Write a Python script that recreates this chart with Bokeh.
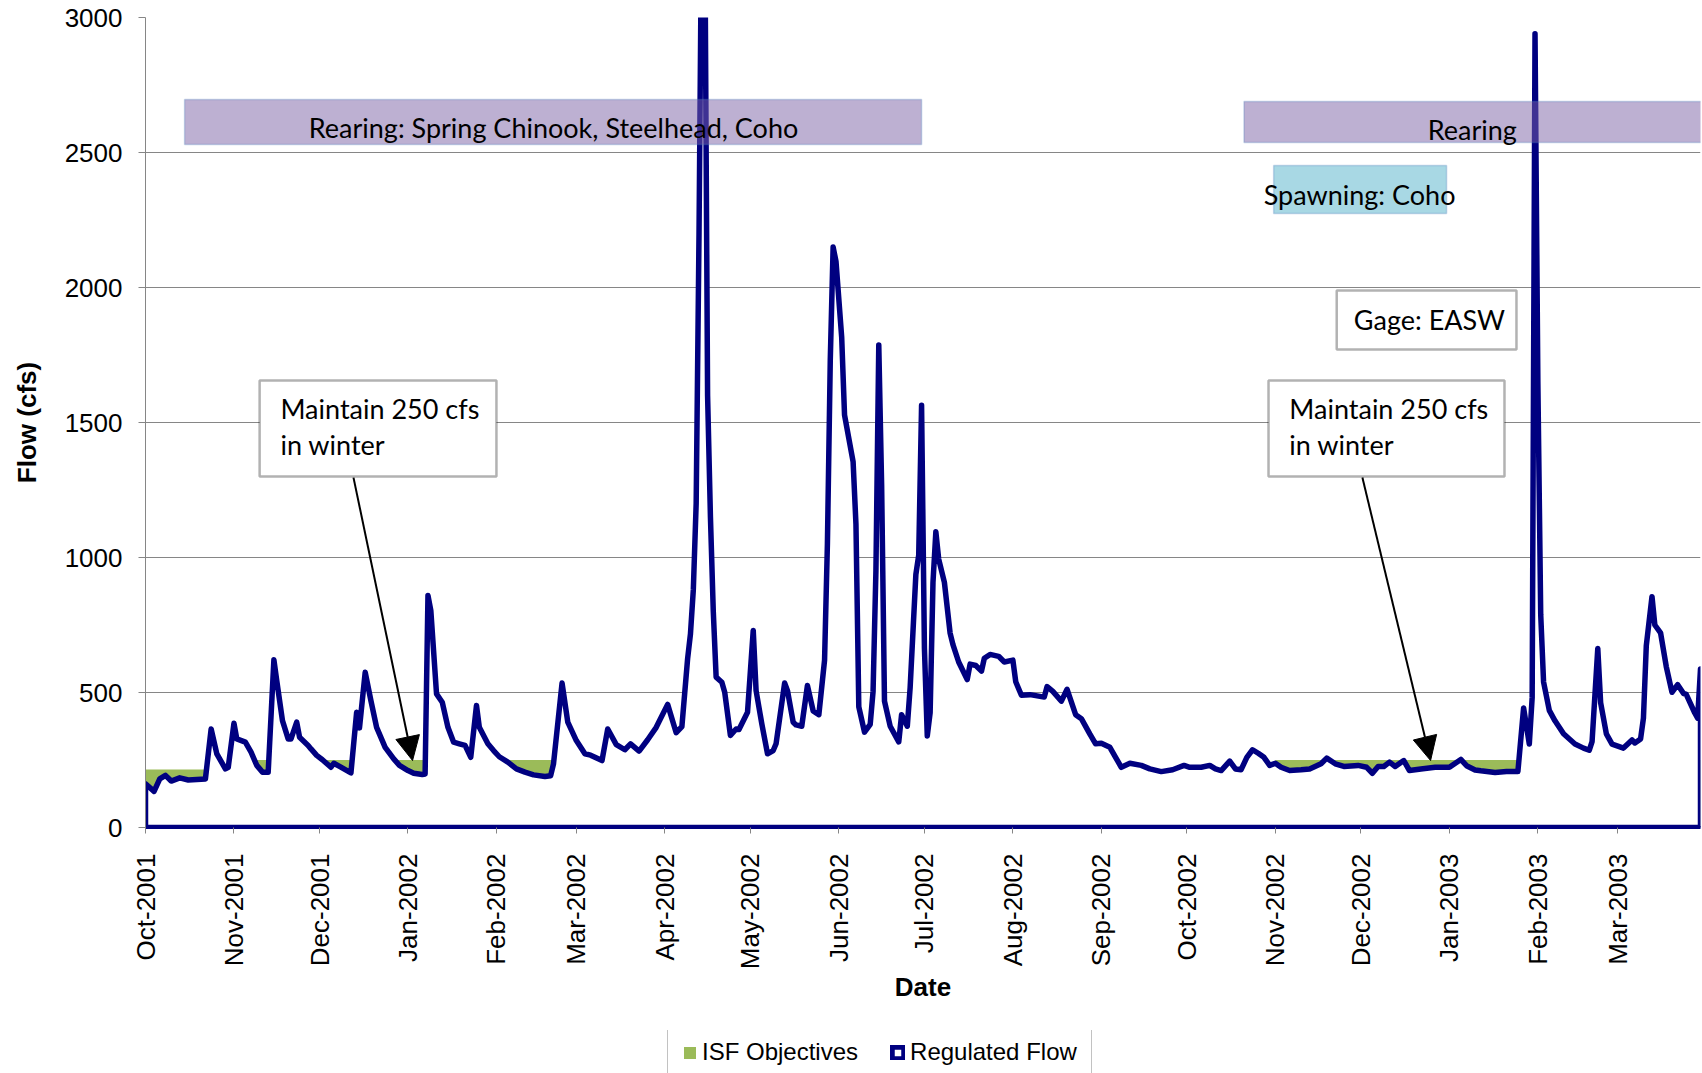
import datetime as dt

from bokeh.embed import file_html
from bokeh.layouts import column
from bokeh.models import (Arrow, BoxAnnotation, DatetimeTickFormatter, FixedTicker,
                          Label, Legend, LegendItem, NormalHead, Range1d)
from bokeh.plotting import figure
from bokeh.resources import INLINE

# ---------------------------------------------------------------------------
# Data
# ---------------------------------------------------------------------------
START = dt.datetime(2001, 10, 1)
END = dt.datetime(2003, 3, 30)

# Regulated flow at gage EASW: days since 1 Oct 2001, flow in cfs
flow_day = [
    0, 3, 5, 7, 9, 12, 15, 21, 23, 25, 28, 29, 31, 32, 35, 37, 39, 41, 43, 45,
    46, 48, 50, 51, 53, 54, 57, 58, 60, 62, 65, 66, 68, 72, 74, 75, 77, 79, 81, 84,
    87, 89, 92, 94, 97, 98, 99, 100, 102, 104, 106, 108, 110, 112, 114, 116, 117, 120, 122, 124,
    127, 130, 133, 136, 140, 142, 143, 146, 148, 151, 154, 156, 160, 162, 165, 168, 170, 173, 176, 179,
    183, 186, 188, 190, 191, 192, 193, 194, 195, 196, 197, 198, 199, 200, 202, 203, 205, 207, 208, 211,
    213, 214, 216, 218, 220, 221, 224, 225, 227, 228, 230, 232, 234, 236, 238, 239, 240, 241, 242, 244,
    245, 248, 249, 250, 252, 254, 255, 256, 257, 258, 259, 261, 264, 265, 267, 268, 270, 271, 272, 273,
    274, 275, 276, 277, 278, 280, 282, 283, 285, 288, 289, 291, 293, 294, 296, 299, 301, 304, 305, 307,
    310, 315, 316, 318, 321, 323, 326, 328, 331, 333, 335, 338, 340, 342, 345, 349, 352, 356, 360, 364,
    366, 370, 373, 375, 377, 380, 382, 384, 386, 388, 390, 392, 394, 396, 398, 401, 405, 408, 412, 414,
    417, 420, 425, 428, 430, 432, 434, 436, 438, 441, 443, 447, 452, 457, 461, 463, 466, 468, 473, 477,
    481, 483, 485, 486, 487, 488, 489, 490, 492, 494, 497, 501, 504, 506, 507, 509, 510, 512, 514, 518,
    521, 522, 524, 525, 526, 528, 529, 531, 533, 535, 537, 539, 540, 543, 544, 545,
]
flow_cfs = [
    162, 134, 180, 193, 172, 184, 176, 180, 365, 273, 217, 223, 386, 328, 316, 279, 230, 205, 205, 621,
    544, 396, 328, 328, 390, 334, 304, 291, 267, 251, 223, 238, 226, 202, 427, 369, 575, 470, 371, 297,
    254, 230, 211, 201, 196, 198, 859, 804, 495, 464, 371, 316, 310, 304, 260, 452, 371, 310, 285, 262,
    242, 217, 205, 195, 189, 192, 236, 535, 390, 322, 273, 268, 248, 365, 307, 288, 310, 283, 325, 371,
    456, 351, 374, 625, 717, 880, 1200, 2200, 3500, 3400, 1600, 1150, 800, 557, 538, 501, 341, 365, 363, 427,
    730, 507, 384, 273, 285, 310, 535, 507, 390, 380, 375, 526, 432, 418, 620, 1052, 1730, 2150, 2097, 1816,
    1528, 1355, 1124, 447, 353, 382, 504, 951, 1787, 1268, 468, 375, 317, 418, 375, 519, 937, 1009, 1564, 663,
    339, 425, 908, 1095, 994, 908, 720, 677, 613, 548, 605, 600, 579, 627, 641, 634, 613, 620, 540, 490,
    492, 483, 522, 504, 468, 512, 418, 403, 346, 310, 312, 297, 260, 223, 238, 230, 217, 207, 214, 230,
    223, 223, 230, 217, 211, 246, 217, 214, 260, 288, 275, 260, 230, 238, 223, 211, 214, 217, 236, 257,
    236, 226, 230, 223, 201, 226, 226, 242, 226, 248, 211, 217, 223, 223, 252, 229, 213, 210, 204, 207,
    207, 443, 309, 481, 2940, 1649, 788, 539, 434, 395, 347, 309, 294, 286, 318, 663, 462, 347, 309, 294,
    324, 313, 328, 405, 673, 855, 750, 721, 596, 501, 529, 497, 493, 424, 405, 587,
]

# Instream flow (ISF) objective by month, cfs
isf_month = [
    "2001-10", "2001-11", "2001-12", "2002-01", "2002-02", "2002-03",
    "2002-04", "2002-05", "2002-06", "2002-07", "2002-08", "2002-09",
    "2002-10", "2002-11", "2002-12", "2003-01", "2003-02", "2003-03",
]
isf_cfs = [215, 250, 250, 250, 250, 250,
           200, 200, 200, 200, 200, 200,
           215, 250, 250, 250, 250, 250]

y_ticks = [0, 500, 1000, 1500, 2000, 2500, 3000]

# ---------------------------------------------------------------------------
EPOCH = dt.datetime(1970, 1, 1)


def ms(d):
    return (d - EPOCH).total_seconds() * 1000.0


def day_ms(n):
    return ms(START + dt.timedelta(days=n))


def month_start(s):
    y, m = s.split("-")
    return dt.datetime(int(y), int(m), 1)


flow_dates = [START + dt.timedelta(days=d) for d in flow_day]

# step outline of the monthly ISF objective
isf_x, isf_y = [], []
for i, (mo, v) in enumerate(zip(isf_month, isf_cfs)):
    a = month_start(mo)
    b = month_start(isf_month[i + 1]) if i + 1 < len(isf_month) else END
    isf_x += [a, b]
    isf_y += [v, v]

poly_x = [flow_dates[0]] + flow_dates + [flow_dates[-1]]
poly_y = [0] + flow_cfs + [0]

FONT = "Liberation Sans"
NOTE_FONT = "Lato"
NAVY = "#000080"
GREEN = "#9BBB59"
GRID = "#868686"
FLOW_W = 5.5

p = figure(
    frame_width=1555, frame_height=810,
    x_axis_type="datetime",
    x_range=Range1d(START, END),
    y_range=Range1d(0, 3000),
    output_backend="svg", toolbar_location=None,
    min_border_left=145, min_border_right=2, min_border_top=17, min_border_bottom=203,
    background_fill_color="white", border_fill_color="white",
)
p.outline_line_color = None

# ISF objectives (green area) under the regulated flow area
p.varea(x=isf_x, y1=[0] * len(isf_y), y2=isf_y, fill_color=GREEN)

# Regulated flow: white-filled area with a navy outline
p.patch(x=poly_x, y=poly_y, fill_color="white", line_color=NAVY,
        line_width=FLOW_W, line_join="round")

# axes
p.xgrid.visible = False
p.ygrid.grid_line_color = GRID
p.ygrid.grid_line_width = 1
p.ygrid.level = "underlay"

p.yaxis.ticker = FixedTicker(ticks=y_ticks)
p.yaxis.axis_label = "Flow (cfs)"
p.yaxis.axis_line_color = GRID
p.yaxis.major_tick_line_color = GRID
p.yaxis.major_tick_out = 7
p.yaxis.major_tick_in = 0
p.yaxis.minor_tick_line_color = None
p.yaxis.major_label_standoff = 16
p.yaxis.axis_label_standoff = 20

month_ticks = [ms(month_start(m)) for m in isf_month]
p.xaxis.ticker = FixedTicker(ticks=month_ticks)
fmt = "%b-%Y"
p.xaxis.formatter = DatetimeTickFormatter(
    milliseconds=fmt, seconds=fmt, minsec=fmt, minutes=fmt, hourmin=fmt,
    hours=fmt, days=fmt, months=fmt, years=fmt)
p.xaxis.major_label_orientation = 3.14159265 / 2
p.xaxis.axis_label = "Date"
p.xaxis.axis_line_color = NAVY
p.xaxis.axis_line_width = 3
p.xaxis.major_tick_line_color = GRID
p.xaxis.major_tick_out = 6
p.xaxis.major_tick_in = 0
p.xaxis.minor_tick_line_color = None
p.xaxis.major_label_standoff = 20
p.xaxis.axis_label_standoff = 0

for ax in (p.xaxis, p.yaxis):
    ax.major_label_text_font = FONT
    ax.major_label_text_font_size = "26px"
    ax.major_label_text_color = "black"
    ax.axis_label_text_font = FONT
    ax.axis_label_text_font_size = "26px"
    ax.axis_label_text_font_style = "bold"
    ax.axis_label_text_color = "black"

# ---------------------------------------------------------------------------
# Annotations
# ---------------------------------------------------------------------------
BLUE_EDGE = "#4F81BD"


def band(d0, d1, c0, c1, color, alpha):
    p.add_layout(BoxAnnotation(left=day_ms(d0), right=day_ms(d1), bottom=c0, top=c1,
                               fill_color=color, fill_alpha=alpha,
                               line_color=BLUE_EDGE, line_width=1.5))


def note_box(d0, d1, c0, c1):
    p.add_layout(BoxAnnotation(left=day_ms(d0), right=day_ms(d1), bottom=c0, top=c1,
                               fill_color="white", fill_alpha=1.0,
                               line_color="black", line_width=2.5))


def note(text, d, c, align="center"):
    p.add_layout(Label(x=day_ms(d), y=c, text=text, text_font=NOTE_FONT,
                       text_font_size="27px", text_color="black",
                       text_align=align, text_baseline="middle"))


# life-stage periods
band(13.7, 272, 2530, 2696, "#7B61A5", 0.5)
band(385, 546, 2537, 2689, "#7B61A5", 0.5)
band(395.4, 456, 2274, 2452, "#52B1C9", 0.5)
note("Rearing: Spring Chinook, Steelhead, Coho", 143, 2593)
note("Rearing", 465, 2585)
note("Spawning: Coho", 425.5, 2344)

# gage tag
note_box(417.5, 480.5, 1770, 1989)
note("Gage: EASW", 450, 1881)

# winter minimum call-outs
for d0, d1, tip_d in [(40, 123, 93.6), (393.6, 476.3, 450.4)]:
    note_box(d0, d1, 1300, 1656)
    note("Maintain 250 cfs", d0 + 7.3, 1552, align="left")
    note("in winter", d0 + 7.3, 1419, align="left")
    p.add_layout(Arrow(x_start=day_ms(d0 + 32.9), y_start=1296,
                       x_end=day_ms(tip_d), y_end=248,
                       line_color="black", line_width=2,
                       end=NormalHead(size=24, fill_color="black", line_color="black")))

# ---------------------------------------------------------------------------
# Legend strip under the chart: the same two series, styled identically,
# drawn with a y range that keeps them out of view so only the keys show.
# ---------------------------------------------------------------------------
q = figure(width=1702, height=43,
           x_axis_type="datetime",
           x_range=Range1d(START, END), y_range=Range1d(10000, 10001),
           output_backend="svg", toolbar_location=None,
           x_axis_location=None, y_axis_location=None,
           min_border=0, min_border_left=0, min_border_right=0,
           min_border_top=0, min_border_bottom=0,
           background_fill_color="white", border_fill_color="white")
q.outline_line_color = None
q.grid.visible = False
isf_key = q.varea(x=isf_x, y1=[0] * len(isf_y), y2=isf_y, fill_color=GREEN)
flow_key = q.patch(x=poly_x, y=poly_y, fill_color="white", line_color=NAVY,
                   line_width=FLOW_W, line_join="round")

legend = Legend(
    items=[LegendItem(label="ISF Objectives", renderers=[isf_key]),
           LegendItem(label="Regulated Flow", renderers=[flow_key])],
    orientation="horizontal", location=(522, -8),
    label_text_font=FONT, label_text_font_size="24px", label_text_color="black",
    glyph_width=15, glyph_height=15, label_standoff=5, spacing=32,
    padding=14, margin=0,
    border_line_color=GRID, border_line_width=1,
    background_fill_color="white",
)
q.add_layout(legend)

open("out.html", "w").write(file_html(column(p, q, spacing=0), INLINE))
